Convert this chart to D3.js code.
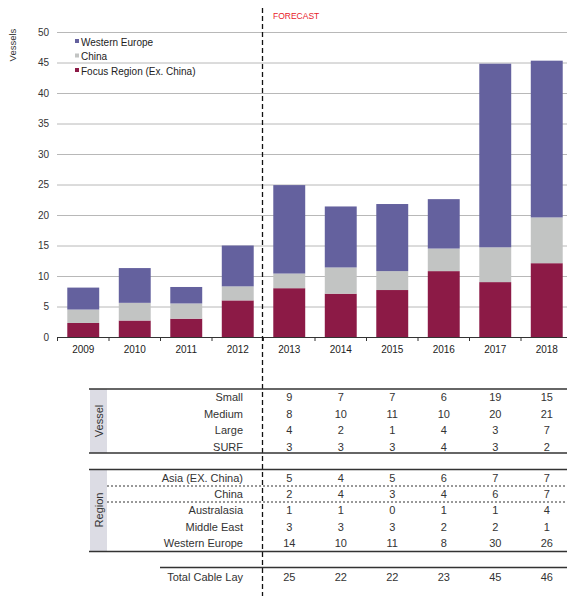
<!DOCTYPE html>
<html><head><meta charset="utf-8">
<script src="https://cdn.jsdelivr.net/npm/d3@7"></script>
<style>body{margin:0;background:#fff;}svg{display:block;font-family:"Liberation Sans",Arial,sans-serif;}</style>
</head><body><svg id="c" width="567" height="596"></svg>
<script>
const years = ["2009","2010","2011","2012","2013","2014","2015","2016","2017","2018"];
const focusRegion = [2.3, 2.7, 3.0, 6.0, 8.0, 7.1, 7.7, 10.8, 9.0, 12.1];
const china = [2.2, 2.9, 2.5, 2.3, 2.4, 4.3, 3.1, 3.7, 5.7, 7.5];
const westernEurope = [3.6, 5.7, 2.7, 6.7, 14.5, 10.0, 11.0, 8.1, 30.1, 25.7];
const seriesNames = ["Focus Region (Ex. China)", "China", "Western Europe"];
const yTicks = [0,5,10,15,20,25,30,35,40,45,50];
const tableYears = ["2013","2014","2015","2016","2017","2018"];
const vesselRows = ["Small","Medium","Large","SURF"];
const vesselVals = [[9,7,7,6,19,15],[8,10,11,10,20,21],[4,2,1,4,3,7],[3,3,3,4,3,2]];
const regionRows = ["Asia (EX. China)","China","Australasia","Middle East","Western Europe"];
const regionVals = [[5,4,5,6,7,7],[2,4,3,4,6,7],[1,1,0,1,1,4],[3,3,3,2,2,1],[14,10,11,8,30,26]];
const totalLabel = "Total Cable Lay";
const totalVals = [25,22,22,23,45,46];

const colors = {"Focus Region (Ex. China)":"#8c1a46","China":"#c2c4c3","Western Europe":"#64619e"};
const svg = d3.select("#c");
const x = d3.scaleBand().domain(years).range([57.5, 572.5]).paddingInner(0.38).paddingOuter(0.19);
const y = d3.scaleLinear().domain([0,50]).range([337,32]);

// gridlines
svg.append("g").selectAll("line").data(yTicks.filter(d=>d>0)).join("line")
  .attr("x1",57).attr("x2",567).attr("y1",d=>y(d)+0.5).attr("y2",d=>y(d)+0.5)
  .attr("stroke","#b8b8b8").attr("stroke-width",1);

// y axis labels
svg.append("g").selectAll("text").data(yTicks).join("text")
  .attr("x",49).attr("y",d=>y(d)+3.5).attr("text-anchor","end")
  .attr("font-size",10).attr("fill","#333").text(d=>d);
svg.append("text").attr("transform","translate(16,45) rotate(-90)").attr("text-anchor","middle")
  .attr("font-size",9.5).attr("fill","#333").text("Vessels");

// stacked bars
const rows = years.map((yr,i)=>({year:yr,"Focus Region (Ex. China)":focusRegion[i],"China":china[i],"Western Europe":westernEurope[i]}));
const stacked = d3.stack().keys(seriesNames)(rows);
svg.append("g").selectAll("g").data(stacked).join("g").attr("fill",s=>colors[s.key])
  .selectAll("rect").data(s=>s).join("rect")
  .attr("x",d=>x(d.data.year)).attr("width",x.bandwidth())
  .attr("y",d=>y(d[1])).attr("height",d=>y(d[0])-y(d[1]));

// x axis
const xAxisG = svg.append("g").attr("transform","translate(0,337)");
xAxisG.append("line").attr("x1",57).attr("x2",567).attr("y1",0.5).attr("y2",0.5).attr("stroke","#333");
const step = x.step();
const tickXs = years.map(yr=>x(yr)-(step-x.bandwidth())/2);
xAxisG.selectAll("line.t").data(tickXs).join("line").attr("class","t")
  .attr("x1",d=>d).attr("x2",d=>d).attr("y1",0).attr("y2",4).attr("stroke","#333");
xAxisG.selectAll("text").data(years).join("text")
  .attr("x",d=>x(d)+x.bandwidth()/2).attr("y",15.5).attr("text-anchor","middle")
  .attr("font-size",10).attr("fill","#222").text(d=>d);

// legend
const legendOrder = ["Western Europe","China","Focus Region (Ex. China)"];
const lg = svg.append("g");
legendOrder.forEach((k,i)=>{
  const ly = 42 + i*14.5;
  lg.append("rect").attr("x",75).attr("y",ly-3).attr("width",4).attr("height",4).attr("fill",colors[k]);
  lg.append("text").attr("x",81).attr("y",ly+3.5).attr("font-size",10).attr("fill","#222").text(k);
});

// forecast line + label
svg.append("line").attr("x1",262.5).attr("x2",262.5).attr("y1",8).attr("y2",596)
  .attr("stroke","#111").attr("stroke-width",1.3).attr("stroke-dasharray","5,3");
svg.append("text").attr("x",273).attr("y",19).attr("font-size",8.5).attr("fill","#e8202a").text("FORECAST");

// table
const tx = d=>x(d)+x.bandwidth()/2;
const labelX = 243;
const tg = svg.append("g").attr("font-size",11).attr("fill","#333");
function hline(y0,x0,w){ tg.append("line").attr("x1",x0).attr("x2",567).attr("y1",y0).attr("y2",y0).attr("stroke","#333").attr("stroke-width",w); }
// vessel block
tg.append("rect").attr("x",90).attr("y",389).attr("width",17).attr("height",64).attr("fill","#dcdce4");
tg.append("text").attr("transform","translate(103,421) rotate(-90)").attr("text-anchor","middle").attr("fill","#333").text("Vessel");
hline(389,89,1.5); hline(453,89,1.5);
vesselRows.forEach((r,i)=>{
  const ry = 401 + i*16.5;
  tg.append("text").attr("x",labelX).attr("y",ry).attr("text-anchor","end").text(r);
  tableYears.forEach((yr,j)=>tg.append("text").attr("x",tx(yr)).attr("y",ry).attr("text-anchor","middle").text(vesselVals[i][j]));
});
// region block
tg.append("rect").attr("x",90).attr("y",470).attr("width",17).attr("height",81).attr("fill","#dcdce4");
tg.append("text").attr("transform","translate(103,510) rotate(-90)").attr("text-anchor","middle").attr("fill","#333").text("Region");
hline(469.5,89,1.5); hline(551.5,89,1.5);
[486,502].forEach(yy=>tg.append("line").attr("x1",107).attr("x2",567).attr("y1",yy).attr("y2",yy)
  .attr("stroke","#333").attr("stroke-width",1).attr("stroke-dasharray","2,2"));
regionRows.forEach((r,i)=>{
  const ry = 482 + i*16.2;
  tg.append("text").attr("x",labelX).attr("y",ry).attr("text-anchor","end").text(r);
  tableYears.forEach((yr,j)=>tg.append("text").attr("x",tx(yr)).attr("y",ry).attr("text-anchor","middle").text(regionVals[i][j]));
});
// total
hline(567.5,160,1.3);
tg.append("text").attr("x",labelX).attr("y",581).attr("text-anchor","end").text(totalLabel);
tableYears.forEach((yr,j)=>tg.append("text").attr("x",tx(yr)).attr("y",581).attr("text-anchor","middle").text(totalVals[j]));
</script></body></html>
